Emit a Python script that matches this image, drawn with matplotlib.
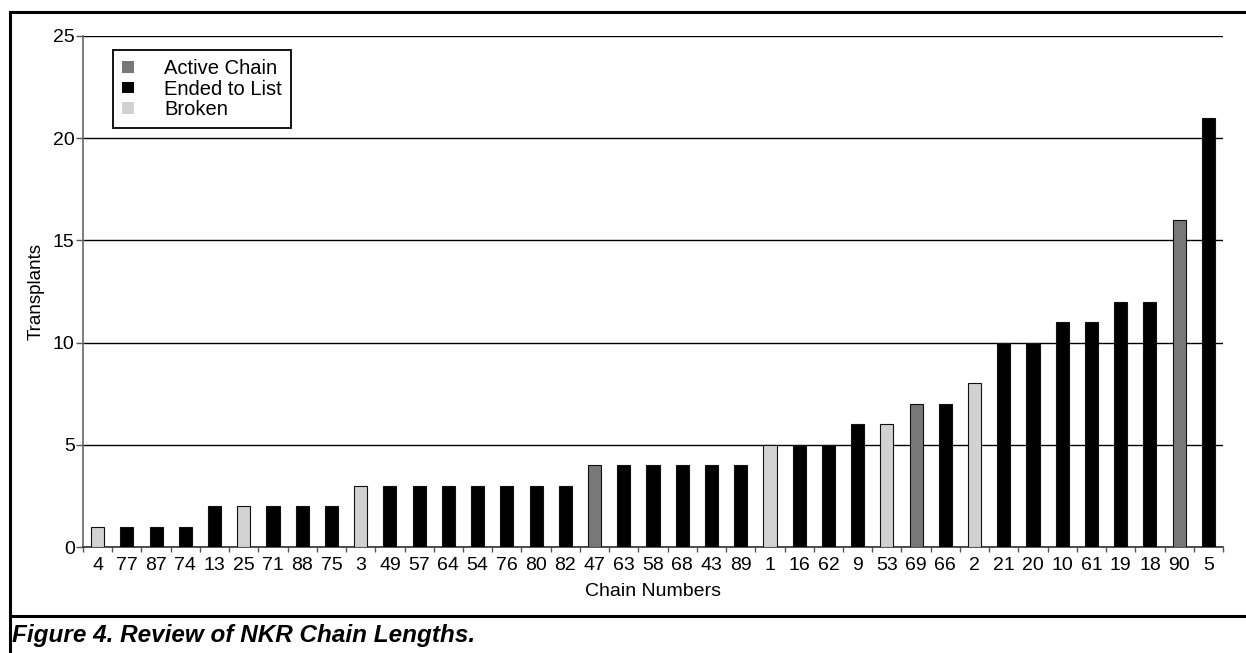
import matplotlib
matplotlib.use("Agg")
import matplotlib.pyplot as plt
from matplotlib.patches import Patch
from matplotlib.lines import Line2D

plt.rcParams['font.family'] = ['Liberation Sans', 'DejaVu Sans']

chains = ["4", "77", "87", "74", "13", "25", "71", "88", "75", "3", "49", "57", "64",
          "54", "76", "80", "82", "47", "63", "58", "68", "43", "89", "1", "16", "62",
          "9", "53", "69", "66", "2", "21", "20", "10", "61", "19", "18", "90", "5"]
transplants = [1, 1, 1, 1, 2, 2, 2, 2, 2, 3, 3, 3, 3, 3, 3, 3, 3, 4, 4, 4, 4, 4, 4,
               5, 5, 5, 6, 6, 7, 7, 8, 10, 10, 11, 11, 12, 12, 16, 21]
status = ["B", "E", "E", "E", "E", "B", "E", "E", "E", "B", "E", "E", "E", "E", "E",
          "E", "E", "A", "E", "E", "E", "E", "E", "B", "E", "E", "E", "B", "A", "E",
          "B", "E", "E", "E", "E", "E", "E", "A", "E"]
status_names = {"A": "Active Chain", "E": "Ended to List", "B": "Broken"}
status_colors = {"A": "#787878", "E": "#000000", "B": "#d2d2d2"}

W, H = 1246, 653
fig = plt.figure(figsize=(W / 100, H / 100), dpi=100)
ax = fig.add_axes([83 / W, 1 - 547 / H, 1140 / W, 511 / H])

x = list(range(len(chains)))
ax.bar(x, transplants, width=0.45, color=[status_colors[s] for s in status],
       edgecolor="#111111", linewidth=0.8, zorder=3)

ax.set_xlim(-0.5, len(chains) - 0.5)
ax.set_ylim(0, 25)
ax.set_yticks([0, 5, 10, 15, 20, 25])
ax.yaxis.grid(True, color="black", linewidth=1.0, zorder=0)
ax.set_axisbelow(True)
ax.set_xticks(x)
ax.set_xticklabels(chains, fontsize=14)
ax.set_xticks([i - 0.5 for i in range(len(chains) + 1)], minor=True)
ax.tick_params(axis="x", which="major", length=0, pad=7)
ax.tick_params(axis="x", which="minor", length=3.5, width=1, color="#555555", direction="out")
ax.tick_params(axis="y", length=5, width=1, color="#555555", labelsize=14, pad=1)
for side in ["top", "right"]:
    ax.spines[side].set_visible(False)
ax.spines["left"].set_color("#666666")
ax.spines["left"].set_linewidth(1.2)
ax.spines["bottom"].set_color("#333333")
ax.spines["bottom"].set_linewidth(1.2)
ax.set_xlabel("Chain Numbers", fontsize=14, labelpad=7)
ax.set_ylabel("Transplants", fontsize=13.5, labelpad=6)

handles = [Patch(facecolor=status_colors[k], edgecolor="none", label=status_names[k])
           for k in ["A", "E", "B"]]
leg = ax.legend(handles=handles, loc="upper left", bbox_to_anchor=(30 / 1140, 1 - 14 / 511),
                fontsize=14.5, frameon=True, fancybox=False, edgecolor="black",
                handlelength=0.6, handleheight=0.5, handletextpad=1.5,
                labelspacing=0.08, borderpad=0.45, borderaxespad=0)
leg.get_frame().set_linewidth(1.3)
leg.get_frame().set_alpha(1)

# outer frame
fig.add_artist(Line2D([10 / W, 10 / W], [0, 1 - 12 / H], transform=fig.transFigure,
                      color="black", linewidth=2.2))
fig.add_artist(Line2D([10 / W, 1], [1 - 12 / H, 1 - 12 / H], transform=fig.transFigure,
                      color="black", linewidth=2.2))
fig.add_artist(Line2D([10 / W, 1], [1 - 616 / H, 1 - 616 / H], transform=fig.transFigure,
                      color="black", linewidth=2.2))

fig.text(12 / W, 1 - 642 / H, "Figure 4. Review of NKR Chain Lengths.", fontsize=17.5,
         fontweight="bold", fontstyle="italic", va="baseline", ha="left")

fig.savefig("out.png", dpi=100)
